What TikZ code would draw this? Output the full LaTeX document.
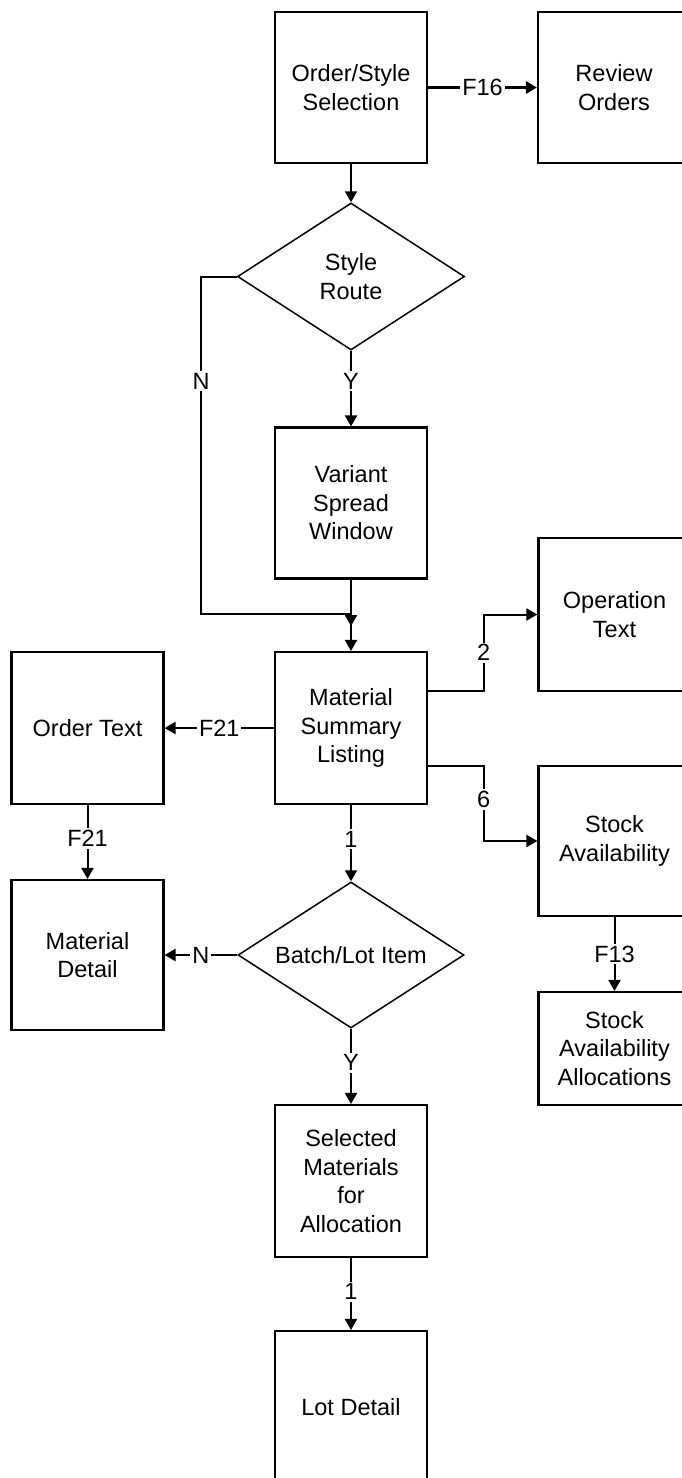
\documentclass[tikz,border=0pt]{standalone}
\usepackage{fontspec}
\setmainfont{Liberation Sans}
\usetikzlibrary{arrows.meta,shapes.geometric,calc}
\begin{document}
\begin{tikzpicture}[x=1pt,y=-1pt,
  font=\fontsize{23.5}{28.5}\selectfont,
  box/.style={draw,line width=2.1pt,minimum width=152pt,minimum height=151pt,align=center,inner sep=0pt},
  decide/.style={draw,diamond,line width=1.5pt,minimum width=227pt,minimum height=147pt,align=center,inner sep=0pt},
  link/.style={line width=2pt,-{Triangle[length=11pt,width=12pt]}},
  tag/.style={fill=white,inner sep=2pt}]
\useasboundingbox (0,0) rectangle (682,1478);
\clip (0,0) rectangle (682,1478);

% boxes and decisions
\node[box] (sel) at (351,87.5) {Order/Style\\Selection};
\node[box] (rev) at (614,87.5) {Review\\Orders};
\node[decide] (route) at (351,276.5) {Style\\Route};
\node[box] (var) at (351,503) {Variant\\Spread\\Window};
\node[box,minimum height=152pt] (mat) at (351,728) {Material\\Summary\\Listing};
\node[box,minimum height=152pt] (ord) at (87.5,728) {Order Text};
\node[box,minimum height=153pt] (op) at (614.5,614.5) {Operation\\Text};
\node[box,minimum height=150pt] (stock) at (614.5,841) {Stock\\Availability};
\node[box,minimum height=113pt] (alloc) at (614.5,1048.5) {Stock\\Availability\\Allocations};
\node[decide,minimum width=226pt,minimum height=146pt] (batch) at (351,955) {\makebox[0pt]{Batch/Lot Item}};
\node[box,minimum height=150pt] (mdet) at (87.5,955) {Material\\Detail};
\node[box,minimum height=152pt] (selm) at (351,1181) {Selected\\Materials\\for\\Allocation};
\node[box,minimum height=152pt] (lot) at (351,1407) {Lot Detail};

% bend points
\coordinate (nTop) at (201,276.5);
\coordinate (nLow) at (201,614);
\coordinate (nJoin) at (351,614);
\coordinate (nEnd) at (351,626);
\coordinate (twoA) at ($(mat.east)+(0,-37)$);
\coordinate (twoB) at ($(twoA)+(55.5,0)$);
\coordinate (sixA) at ($(mat.east)+(0,38)$);
\coordinate (sixB) at ($(sixA)+(55.5,0)$);

% connectors
\draw[link,line width=2.8pt] (sel.east) -- node[tag] {F16} (rev.west);
\draw[link] (sel.south) -- (route.north);
\draw[link] (route.south) -- node[tag,pos=0.4] {Y} (var.north);
\draw[link] (route.west) -- (nTop) -- node[tag,pos=0.31] {N} (nLow) -- (nJoin) -- (nEnd);
\draw[link] (var.south) -- (mat.north);
\draw[link] (mat.west) -- node[tag] {F21} (ord.east);
\draw[link] (twoA) -- (twoB) -- node[tag] {2} (twoB |- op.west) -- (op.west);
\draw[link] (sixA) -- (sixB) -- node[tag,pos=0.45] {6} (sixB |- stock.west) -- (stock.west);
\draw[link] (mat.south) -- node[tag,pos=0.45] {1} (batch.north);
\draw[link] (ord.south) -- node[tag,pos=0.45] {F21} (mdet.north);
\draw[link] (batch.west) -- node[tag] {N} (mdet.east);
\draw[link] (batch.south) -- node[tag,pos=0.45] {Y} (selm.north);
\draw[link] (stock.south) -- node[tag] {F13} (alloc.north);
\draw[link] (selm.south) -- node[tag,pos=0.47] {1} (lot.north);
\end{tikzpicture}
\end{document}
